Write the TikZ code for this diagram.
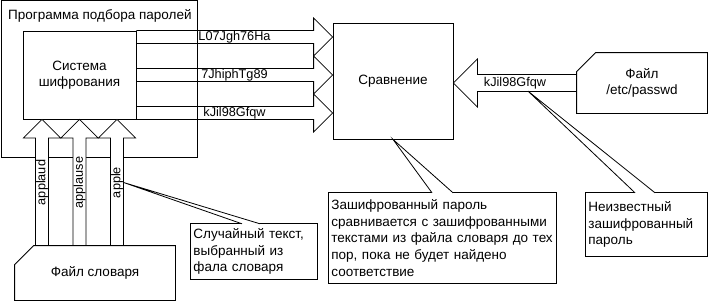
\documentclass[tikz,border=0pt]{standalone}
\usepackage{fontspec}
\setmainfont{Liberation Sans}
\usetikzlibrary{positioning, calc}

\begin{document}
\begin{tikzpicture}[
  x=1pt, y=-1pt,
  box/.style={draw, line width=0.8pt, inner sep=0pt, align=center,
              font=\fontsize{13.5}{16}\selectfont},
  note/.style={draw, line width=0.8pt, anchor=north west, align=left,
               inner xsep=3pt, inner ysep=3pt, font=\fontsize{13.5}{16.6}\selectfont},
  tag/.style={inner sep=0.5pt, font=\fontsize{12.7}{14}\selectfont},
  blockarrow/.style={draw, line width=0.8pt},
  pointer/.style={draw, line width=0.8pt, fill=white}
]
  \useasboundingbox (0,0) rectangle (708,305);

  \node[box, minimum width=196pt, minimum height=156pt, anchor=north west] (prog) at (0.5,0.5) {};
  \node[inner sep=0pt, font=\fontsize{13.5}{16}\selectfont, below right=9pt and 7.5pt of prog.north west] (progtitle) {Программа подбора паролей};
  \node[box, minimum width=113pt, minimum height=88pt] (enc) at (79.5,75) {Система\\шифрования};
  \node[box, minimum width=120pt, minimum height=116pt] (cmp) at (393,81) {Сравнение};
  \node[box, draw=none, minimum width=130pt, minimum height=60pt] (passwd) at (642,83) {Файл\\/etc/passwd};
  \node[box, draw=none, minimum width=160pt, minimum height=54pt] (dict) at (95,273) {Файл словаря};

  \foreach \dy/\word [count=\i] in {-38/L07Jgh76Ha, 0/7JhiphTg89, 38/kJil98Gfqw} {
    \coordinate (out\i) at ($(enc.east)+(0,\dy)$);
    \coordinate (in\i) at (out\i -| cmp.west);
    \draw[blockarrow] ($(out\i)+(0,-6.5)$) -- ($(in\i)+(-19,-6.5)$) -- ($(in\i)+(-19,-19)$) -- (in\i)
      -- ($(in\i)+(-19,19)$) -- ($(in\i)+(-19,6.5)$) -- ($(out\i)+(0,6.5)$);
    \node[tag] (c\i) at ($(out\i)!0.5!(in\i)$) {\word};
  }

  \foreach \dx/\word [count=\i] in {-37.5/applaud, 0/applause, 37.5/apple} {
    \coordinate (tip\i) at ($(enc.south)+(\dx,0)$);
    \coordinate (foot\i) at (tip\i |- dict.north);
    \draw[blockarrow, fill=white] ($(foot\i)+(-6.5,0)$) -- ($(tip\i)+(-6.5,18.5)$) -- ($(tip\i)+(-18.5,18.5)$) -- (tip\i)
      -- ($(tip\i)+(18.5,18.5)$) -- ($(tip\i)+(6.5,18.5)$) -- ($(foot\i)+(6.5,0)$);
    \node[tag, rotate=90] (w\i) at ($(tip\i)!0.5!(foot\i)$) {\word};
  }

  \coordinate (pin) at (passwd.west);
  \coordinate (pout) at (pin -| cmp.east);
  \draw[blockarrow] ($(pin)+(0,-8.5)$) -- ($(pout)+(24,-8.5)$) -- ($(pout)+(24,-24)$) -- (pout)
    -- ($(pout)+(24,24)$) -- ($(pout)+(24,8.5)$) -- ($(pin)+(0,8.5)$);
  \node[tag] (hash) at ($(pin)!0.5!(pout)$) {kJil98Gfqw};

  \draw[line width=0.8pt] (passwd.south west) -- ($(passwd.north west)+(0,19)$) -- ($(passwd.north west)+(19,0)$)
    -- (passwd.north east) -- (passwd.south east) -- cycle;
  \draw[line width=0.8pt] (dict.south west) -- ($(dict.north west)+(0,19)$) -- ($(dict.north west)+(19,0)$)
    -- (dict.north east) -- (dict.south east) -- cycle;

  \node[note, text width=121pt, minimum height=56pt] (note1) at (190,223) {Случайный текст,\\выбранный из\\фала словаря};
  \node[note, text width=222pt, minimum height=91pt] (note2) at (328,192) {Зашифрованный пароль\\сравнивается с зашифрованными\\текстами из файла словаря до тех\\пор, пока не будет найдено\\соответствие};
  \node[note, text width=116pt, minimum height=64pt] (note3) at (585,192) {Неизвестный\\зашифрованный\\пароль};

  \coordinate (hashtip) at ($(hash.south)+(13,1.5)$);
  \draw[pointer] ($(note1.north west)+(52,0.8)$) -- (w3.south) -- ($(note1.north west)+(70,0.8)$);
  \draw[pointer] ($(note2.north west)+(104,0.8)$) -- (cmp.south) -- ($(note2.north west)+(125,0.8)$);
  \draw[pointer] ($(note3.north west)+(50,0.8)$) -- (hashtip) -- ($(note3.north west)+(70,0.8)$);
\end{tikzpicture}
\end{document}
